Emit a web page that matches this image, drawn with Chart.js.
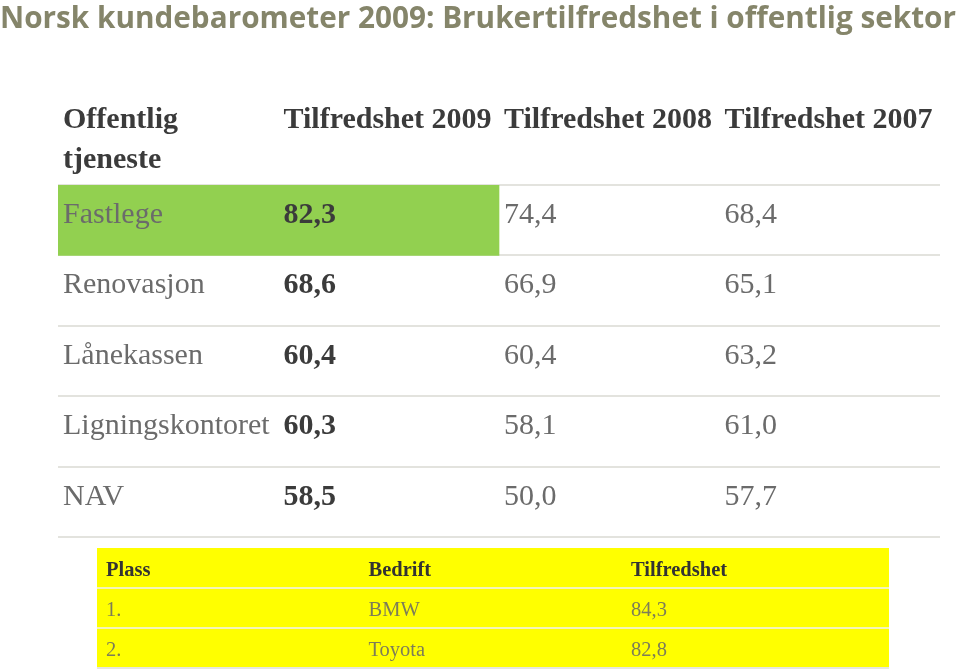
<!DOCTYPE html>
<html>
<head>
<meta charset="utf-8">
<title>Norsk kundebarometer 2009</title>
<script src="https://cdn.jsdelivr.net/npm/chart.js@4.4.1/dist/chart.umd.min.js"></script>
<style>
    body { margin: 0; background: #fff; }
    #wrap { position: relative; width: 960px; height: 671px; }
    #wrap canvas { position: absolute; left: 0; top: 0; }
</style>
</head>
<body>
<div id="wrap">
    <canvas id="mainChart" width="960" height="671"></canvas>
    <canvas id="topChart" width="960" height="671"></canvas>
</div>
<script>
const title = "Norsk kundebarometer 2009: Brukertilfredshet i offentlig sektor";

// top table
const headers = [["Offentlig", "tjeneste"], ["Tilfredshet 2009"], ["Tilfredshet 2008"], ["Tilfredshet 2007"]];
const services = ["Fastlege", "Renovasjon", "Lånekassen", "Ligningskontoret", "NAV"];
const tilfredshet2009 = [82.3, 68.6, 60.4, 60.3, 58.5];
const tilfredshet2008 = [74.4, 66.9, 60.4, 58.1, 50.0];
const tilfredshet2007 = [68.4, 65.1, 63.2, 61.0, 57.7];
const highlighted = "Fastlege";

// bottom table (companies)
const topHeaders = ["Plass", "Bedrift", "Tilfredshet"];
const places = ["1.", "2."];
const companies = ["BMW", "Toyota"];
const companyScores = [84.3, 82.8];

const fmt = v => v.toFixed(1).replace(".", ",");
const serif = '"Liberation Serif", "Times New Roman", serif';

const tablePlugin = {
    id: "tableText",
    afterDraw(chart) {
        const ctx = chart.ctx;
        const x = chart.scales.x, y = chart.scales.y;
        const area = chart.chartArea;
        const rowH = (area.bottom - area.top) / services.length;
        ctx.save();

        // title, squeezed to the page width like the original
        ctx.font = 'bold 31px "Open Sans", Lato, sans-serif';
        ctx.fillStyle = "#85856a";
        ctx.textBaseline = "alphabetic";
        const w = ctx.measureText(title).width;
        ctx.save();
        ctx.scale(956 / w, 1);
        ctx.fillText(title, 0, 28);
        ctx.restore();

        // column headers
        ctx.font = "bold 30px " + serif;
        ctx.fillStyle = "#3b3b3b";
        headers.forEach((lines, c) => {
            lines.forEach((t, k) => {
                ctx.fillText(t, x.getPixelForValue(c) + 5, area.top - 57 + k * 40);
            });
        });

        // rows
        services.forEach((s, i) => {
            const base = y.getPixelForValue(i) - rowH / 2 + 38;
            ctx.font = "30px " + serif;
            ctx.fillStyle = "#6b6b6b";
            ctx.fillText(s, x.getPixelForValue(0) + 5, base);
            ctx.font = "bold 30px " + serif;
            ctx.fillStyle = "#3b3b3b";
            ctx.fillText(fmt(tilfredshet2009[i]), x.getPixelForValue(1) + 5, base);
            ctx.font = "30px " + serif;
            ctx.fillStyle = "#6b6b6b";
            ctx.fillText(fmt(tilfredshet2008[i]), x.getPixelForValue(2) + 5, base);
            ctx.fillText(fmt(tilfredshet2007[i]), x.getPixelForValue(3) + 5, base);
        });
        ctx.restore();
    }
};

new Chart(document.getElementById("mainChart"), {
    type: "bar",
    data: {
        labels: services,
        datasets: [{
            data: services.map(s => s === highlighted ? [0, 2] : null),
            backgroundColor: "#92d050",
            barPercentage: 1,
            categoryPercentage: 1
        }]
    },
    options: {
        indexAxis: "y",
        responsive: false,
        animation: false,
        layout: { padding: { left: 58, right: 20, top: 185, bottom: 134 } },
        plugins: { legend: { display: false }, tooltip: { enabled: false } },
        scales: {
            x: { type: "linear", min: 0, max: 4, display: false },
            y: {
                grid: { offset: true, color: "#e3e3de", lineWidth: 2, drawTicks: false },
                border: { display: false },
                ticks: { display: false },
                afterFit(s) { s.width = 0; }
            }
        }
    },
    plugins: [tablePlugin]
});

const rows2 = ["header"].concat(places);

const smallTablePlugin = {
    id: "smallText",
    afterDraw(chart) {
        const ctx = chart.ctx;
        const x = chart.scales.x, y = chart.scales.y;
        const area = chart.chartArea;
        const rowH = (area.bottom - area.top) / rows2.length;
        ctx.save();
        ctx.textBaseline = "alphabetic";
        ctx.font = "bold 20.5px " + serif;
        ctx.fillStyle = "#333333";
        topHeaders.forEach((t, c) => {
            ctx.fillText(t, x.getPixelForValue(c) + 9 - c * 1.5, y.getPixelForValue(0) - rowH / 2 + 28);
        });
        ctx.font = "20.5px " + serif;
        ctx.fillStyle = "#7d7d58";
        places.forEach((p, i) => {
            const base = y.getPixelForValue(i + 1) - rowH / 2 + 28;
            ctx.fillText(p, x.getPixelForValue(0) + 9, base);
            ctx.fillText(companies[i], x.getPixelForValue(1) + 7.5, base);
            ctx.fillText(fmt(companyScores[i]), x.getPixelForValue(2) + 6, base);
        });
        ctx.restore();
    }
};

new Chart(document.getElementById("topChart"), {
    type: "bar",
    data: {
        labels: rows2,
        datasets: [{
            data: rows2.map(() => [0, 3]),
            backgroundColor: "#ffff00",
            barPercentage: 1,
            categoryPercentage: 1
        }]
    },
    options: {
        indexAxis: "y",
        responsive: false,
        animation: false,
        layout: { padding: { left: 97, right: 71, top: 548, bottom: 3 } },
        plugins: { legend: { display: false }, tooltip: { enabled: false } },
        scales: {
            x: { type: "linear", min: 0, max: 3, display: false },
            y: {
                grid: {
                    offset: true,
                    z: 1,
                    lineWidth: 2,
                    drawTicks: false,
                    color: c => c.index === 0 ? "rgba(0,0,0,0)" : (c.index === undefined ? "#e6e6de" : "#f4f4b8")
                },
                border: { display: false },
                ticks: { display: false },
                afterFit(s) { s.width = 0; }
            }
        }
    },
    plugins: [smallTablePlugin]
});
</script>
</body>
</html>
